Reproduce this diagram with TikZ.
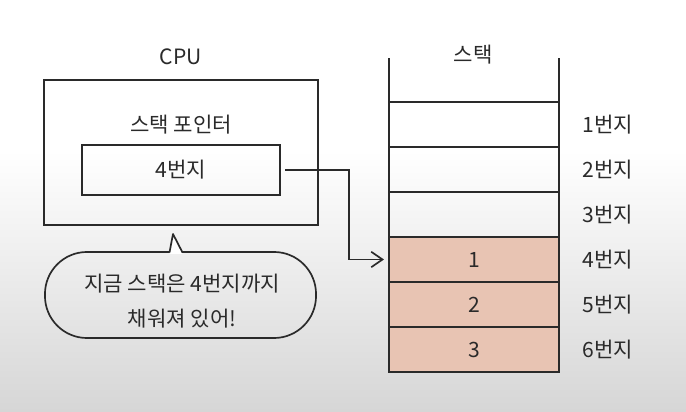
\documentclass[tikz,border=0pt]{standalone}
\usepackage{fontspec}
\setmainfont{Noto Sans CJK KR}
\usetikzlibrary{arrows.meta}
\definecolor{inkgray}{HTML}{2A2A2A}
\definecolor{stackpink}{HTML}{E8C4B3}
\definecolor{bgtop}{HTML}{FFFFFF}
\definecolor{bgbottom}{HTML}{D6D6D6}

\begin{document}
\begin{tikzpicture}[x=0.025cm, y=-0.025cm,
    every node/.style={text=inkgray, font=\fontsize{15}{18}\selectfont},
    box/.style={draw=inkgray, line width=1.2pt, inner sep=0, outer sep=0},
    cell/.style={box, minimum width=4.25cm, minimum height=1.125cm},
    filled/.style={cell, fill=stackpink}]
    \useasboundingbox (0,0) rectangle (686,412);
    \fill[bgtop] (0,0) rectangle (686,150);
    \shade[top color=bgtop, bottom color=bgbottom] (0,150) rectangle (686,412);

    % CPU side
    \node (cpulabel) at (181,57) {CPU};
    \node[box, minimum width=6.85cm, minimum height=3.625cm] (cpu) at (181,152.5) {};
    \node (sptitle) at (181,125) {스택 포인터};
    \node[box, minimum width=4.95cm, minimum height=1.25cm] (ptr) at (181,170) {4번지};

    % speech bubble
    \node[box, minimum width=6.775cm, minimum height=2.15cm, rounded corners=1.05cm] (bubble) at (180.5,295) {};
    \node[align=center] (bubbletext) at (182,301) {지금 스택은 4번지까지\\[7pt]채워져 있어!};
    \coordinate (tailtip) at (173,234);
    \fill[white] (169.5,254) -- (tailtip) -- (182.5,254) -- cycle;
    \draw[inkgray, line width=1.2pt, line join=round] (169.5,252.5) -- (tailtip) -- (182.5,252.5);

    % stack
    \node (stacklabel) at (473,55) {스택};
    \node[cell] (c1) at (474,124.5) {};
    \node[cell] (c2) at (474,169.5) {};
    \node[cell] (c3) at (474,214.5) {};
    \node[filled] (c4) at (474,259.5) {1};
    \node[filled] (c5) at (474,304.5) {2};
    \node[filled] (c6) at (474,349.5) {3};
    \draw[inkgray, line width=1.2pt] (c1.north west) -- ++(0,-44);
    \draw[inkgray, line width=1.2pt] (c1.north east) -- ++(0,-44);

    \node (a1) at (608,124.5) {1번지};
    \node (a2) at (608,169.5) {2번지};
    \node (a3) at (608,214.5) {3번지};
    \node (a4) at (608,259.5) {4번지};
    \node (a5) at (608,304.5) {5번지};
    \node (a6) at (608,349.5) {6번지};

    % pointer arrow
    \draw[inkgray, line width=1.2pt, -{Straight Barb[length=8pt, width=11pt]}]
        ([xshift=0.125cm]ptr.east) -- ++(64,0) |- ([xshift=-0.125cm]c4.west);
\end{tikzpicture}
\end{document}
